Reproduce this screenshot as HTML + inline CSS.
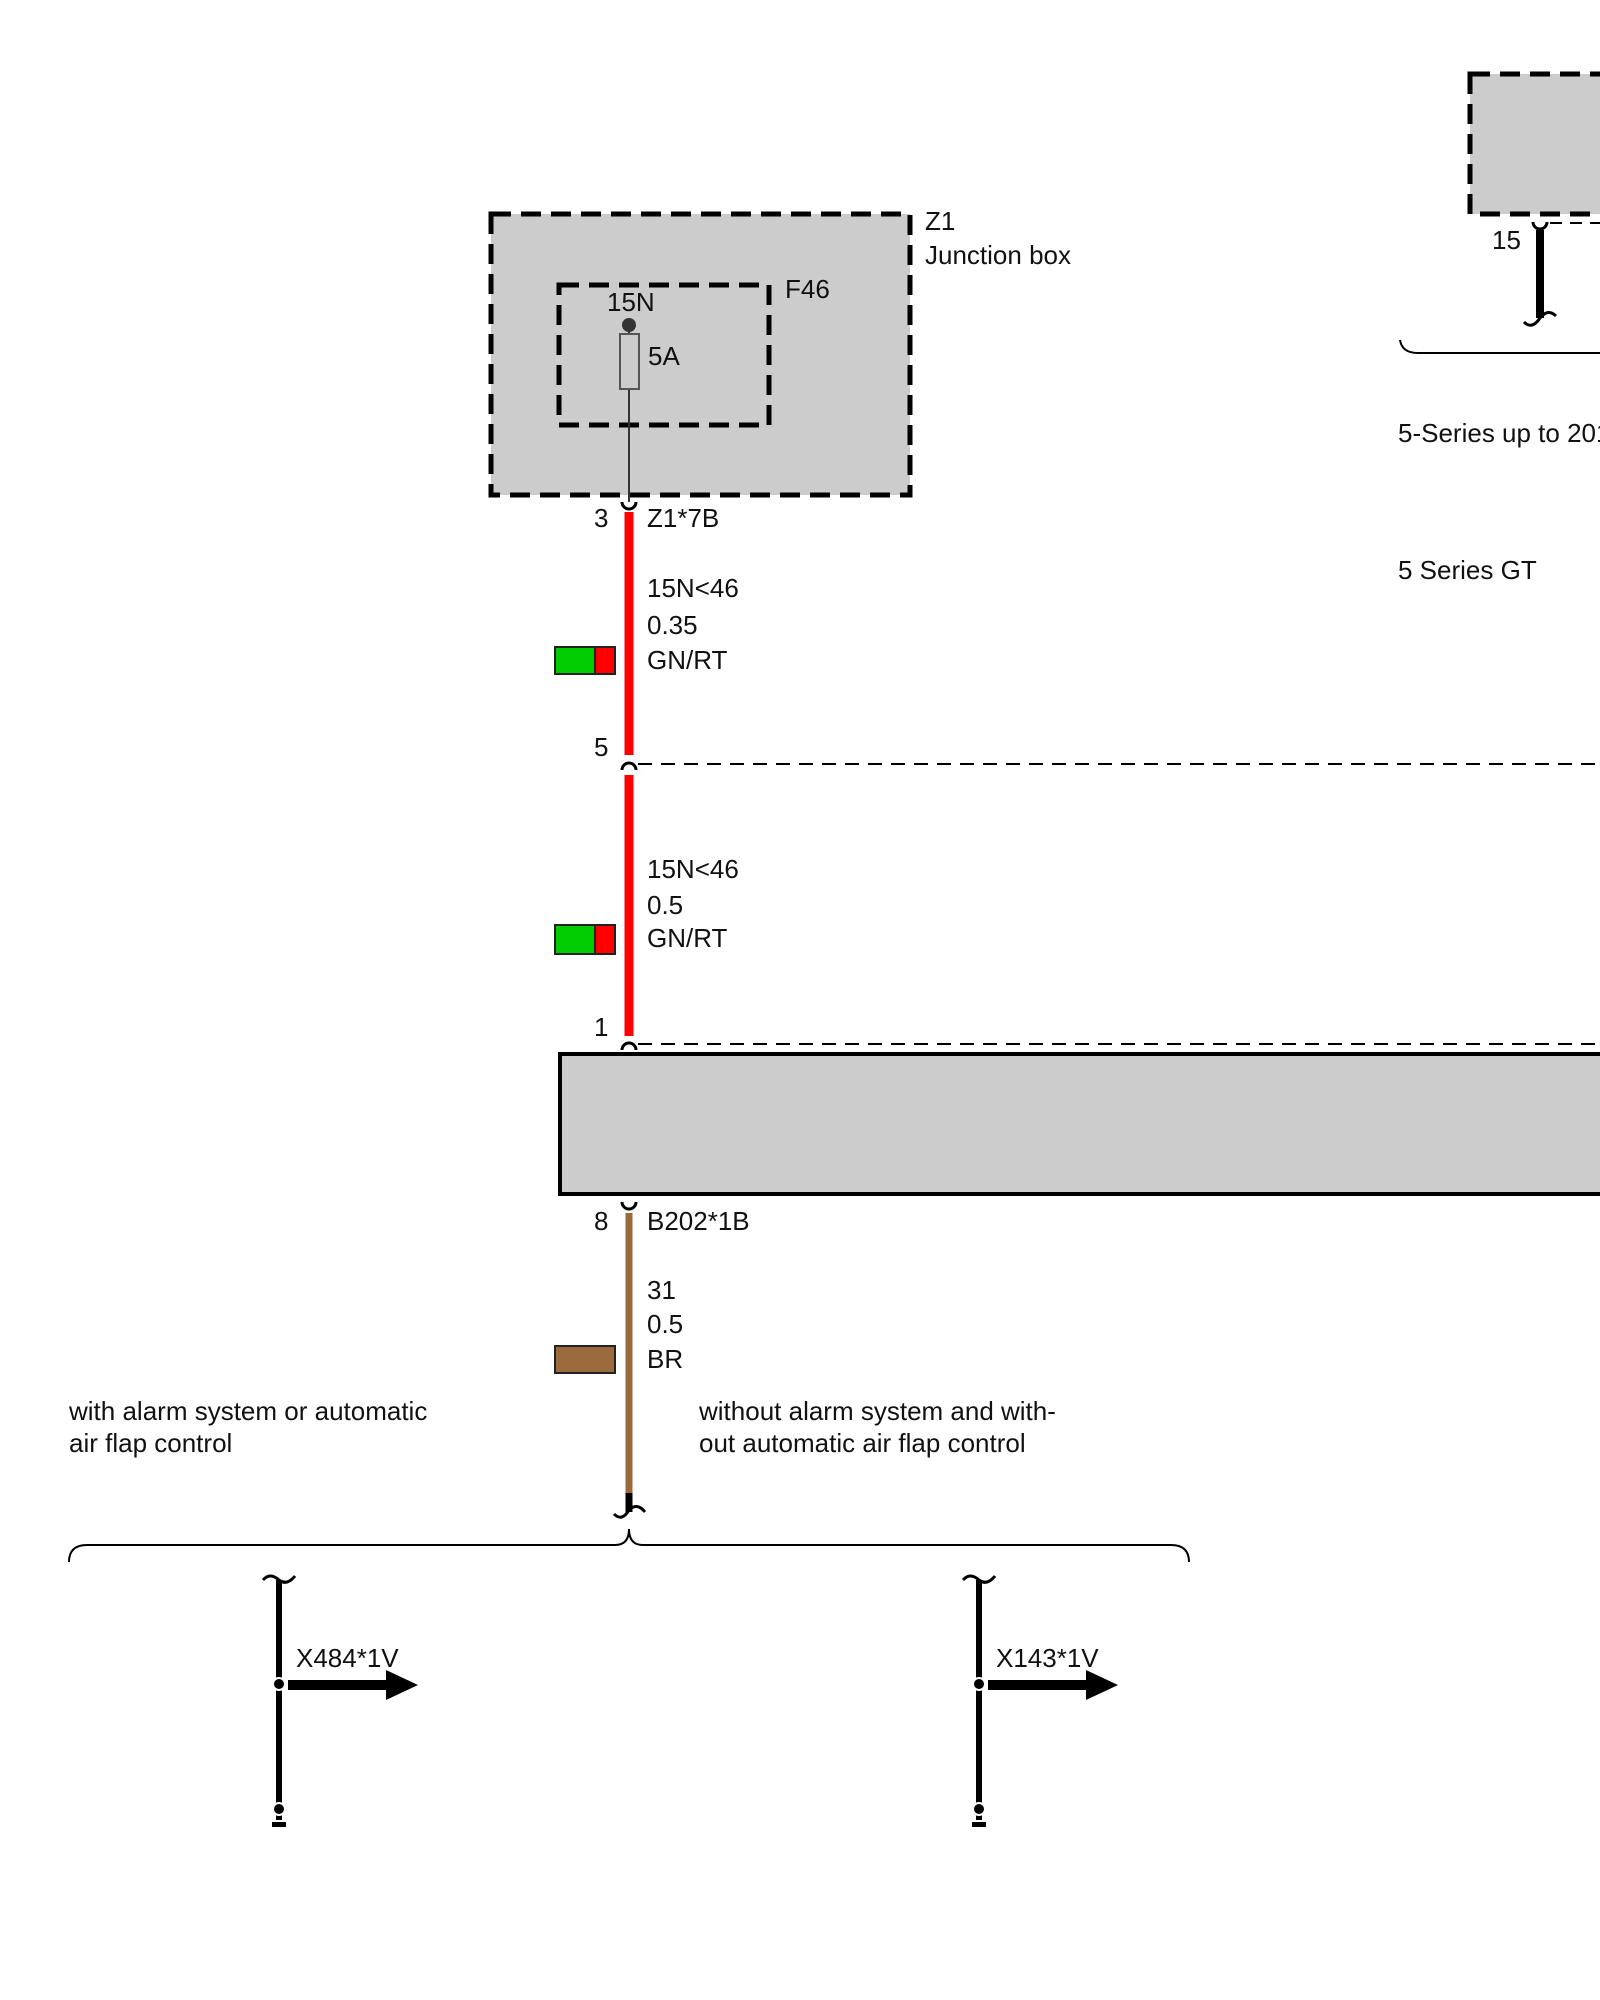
<!DOCTYPE html>
<html><head><style>body{margin:0;background:#fff}svg{display:block}text{font-family:"Liberation Sans",sans-serif;font-size:26px;fill:#111}</style></head><body>
<svg width="1600" height="2000" viewBox="0 0 1600 2000">
<rect x="1470" y="74" width="140" height="140" fill="#ccc" stroke="#000" stroke-width="5" stroke-dasharray="20,10"/>
<line x1="1550" y1="223" x2="1600" y2="223" stroke="#000" stroke-width="2" stroke-dasharray="12,8"/>
<path d="M1533 222 a7 7 0 0 0 14 0" fill="none" stroke="#000" stroke-width="3"/>
<line x1="1540" y1="230" x2="1540" y2="318" stroke="#000" stroke-width="8"/>
<path d="M1524 322 q8 8 16 -4 q8 -10 16 -2" fill="none" stroke="#000" stroke-width="3"/>
<text x="1492" y="249">15</text>
<path d="M1400 340 q2 13 18 13 L1600 353" fill="none" stroke="#000" stroke-width="2"/>
<text x="1398" y="442">5-Series up to 2010</text>
<text x="1398" y="579">5 Series GT</text>
<rect x="491" y="214" width="419" height="281" fill="#ccc" stroke="#000" stroke-width="5" stroke-dasharray="20,10"/>
<rect x="559" y="285" width="210" height="140" fill="none" stroke="#000" stroke-width="5" stroke-dasharray="20,10"/>
<text x="925" y="230">Z1</text>
<text x="925" y="264">Junction box</text>
<text x="785" y="298">F46</text>
<text x="607" y="311" font-size="24">15N</text>
<text x="648" y="365">5A</text>
<line x1="629" y1="325" x2="629" y2="502" stroke="#333" stroke-width="2"/>
<circle cx="629" cy="325" r="7" fill="#333"/>
<rect x="620" y="334" width="19" height="55" fill="#ccc" stroke="#555" stroke-width="2"/>
<path d="M622 502 a7 7 0 0 0 14 0" fill="none" stroke="#000" stroke-width="3"/>
<line x1="629" y1="512" x2="629" y2="755" stroke="#f00" stroke-width="9"/>
<text x="594" y="527">3</text><text x="647" y="527">Z1*7B</text>
<text x="647" y="597">15N&lt;46</text><text x="647" y="634">0.35</text><text x="647" y="669">GN/RT</text>
<rect x="555" y="647" width="40" height="27" fill="#0c0" stroke="#222" stroke-width="2"/>
<rect x="595" y="647" width="20" height="27" fill="#f00" stroke="#222" stroke-width="2"/>
<path d="M622 770 a7 7 0 0 1 14 0" fill="none" stroke="#000" stroke-width="3"/>
<line x1="638" y1="764" x2="1600" y2="764" stroke="#000" stroke-width="2" stroke-dasharray="14,9"/>
<text x="594" y="756">5</text>
<line x1="629" y1="775" x2="629" y2="1036" stroke="#f00" stroke-width="9"/>
<text x="647" y="878">15N&lt;46</text><text x="647" y="914">0.5</text><text x="647" y="947">GN/RT</text>
<rect x="555" y="925" width="40" height="29" fill="#0c0" stroke="#222" stroke-width="2"/>
<rect x="595" y="925" width="20" height="29" fill="#f00" stroke="#222" stroke-width="2"/>
<path d="M622 1050 a7 7 0 0 1 14 0" fill="none" stroke="#000" stroke-width="3"/>
<line x1="638" y1="1044" x2="1600" y2="1044" stroke="#000" stroke-width="2" stroke-dasharray="14,9"/>
<text x="594" y="1036">1</text>
<rect x="560" y="1054" width="1060" height="140" fill="#ccc" stroke="#000" stroke-width="4"/>
<path d="M622 1202 a7 7 0 0 0 14 0" fill="none" stroke="#000" stroke-width="3"/>
<text x="594" y="1230">8</text><text x="647" y="1230">B202*1B</text>
<line x1="629" y1="1213" x2="629" y2="1493" stroke="#9b6a3c" stroke-width="7"/>
<line x1="629" y1="1493" x2="629" y2="1512" stroke="#000" stroke-width="7"/>
<path d="M614 1514 q8 8 15 -4 q8 -8 16 2" fill="none" stroke="#000" stroke-width="3"/>
<text x="647" y="1299">31</text><text x="647" y="1333">0.5</text><text x="647" y="1368">BR</text>
<rect x="555" y="1346" width="60" height="27" fill="#9b6a3c" stroke="#222" stroke-width="2"/>
<text x="69" y="1420">with alarm system or automatic</text>
<text x="69" y="1452">air flap control</text>
<text x="699" y="1420">without alarm system and with-</text>
<text x="699" y="1452">out automatic air flap control</text>
<path d="M69 1562 q0 -17 18 -17 L615 1545 q14 0 14 -16 q0 16 14 16 L1171 1545 q18 0 18 17" fill="none" stroke="#000" stroke-width="2"/>
<g id="b">
<path d="M263 1580 q7 -8 16 0 q8 6 16 -4" fill="none" stroke="#000" stroke-width="3"/>
<line x1="279" y1="1580" x2="279" y2="1820" stroke="#000" stroke-width="6"/>
<circle cx="279" cy="1684" r="6" fill="#000" stroke="#fff" stroke-width="2"/>
<rect x="288" y="1680" width="100" height="10" fill="#000"/>
<polygon points="386,1670 418,1685 386,1700" fill="#000"/>
<circle cx="279" cy="1809" r="6" fill="#000" stroke="#fff" stroke-width="2"/>
<rect x="272" y="1822" width="14" height="5" fill="#000"/>
</g>
<text x="296" y="1667">X484*1V</text>
<g transform="translate(700,0)"><use href="#b"/></g>
<text x="996" y="1667">X143*1V</text>
</svg>
</body></html>
